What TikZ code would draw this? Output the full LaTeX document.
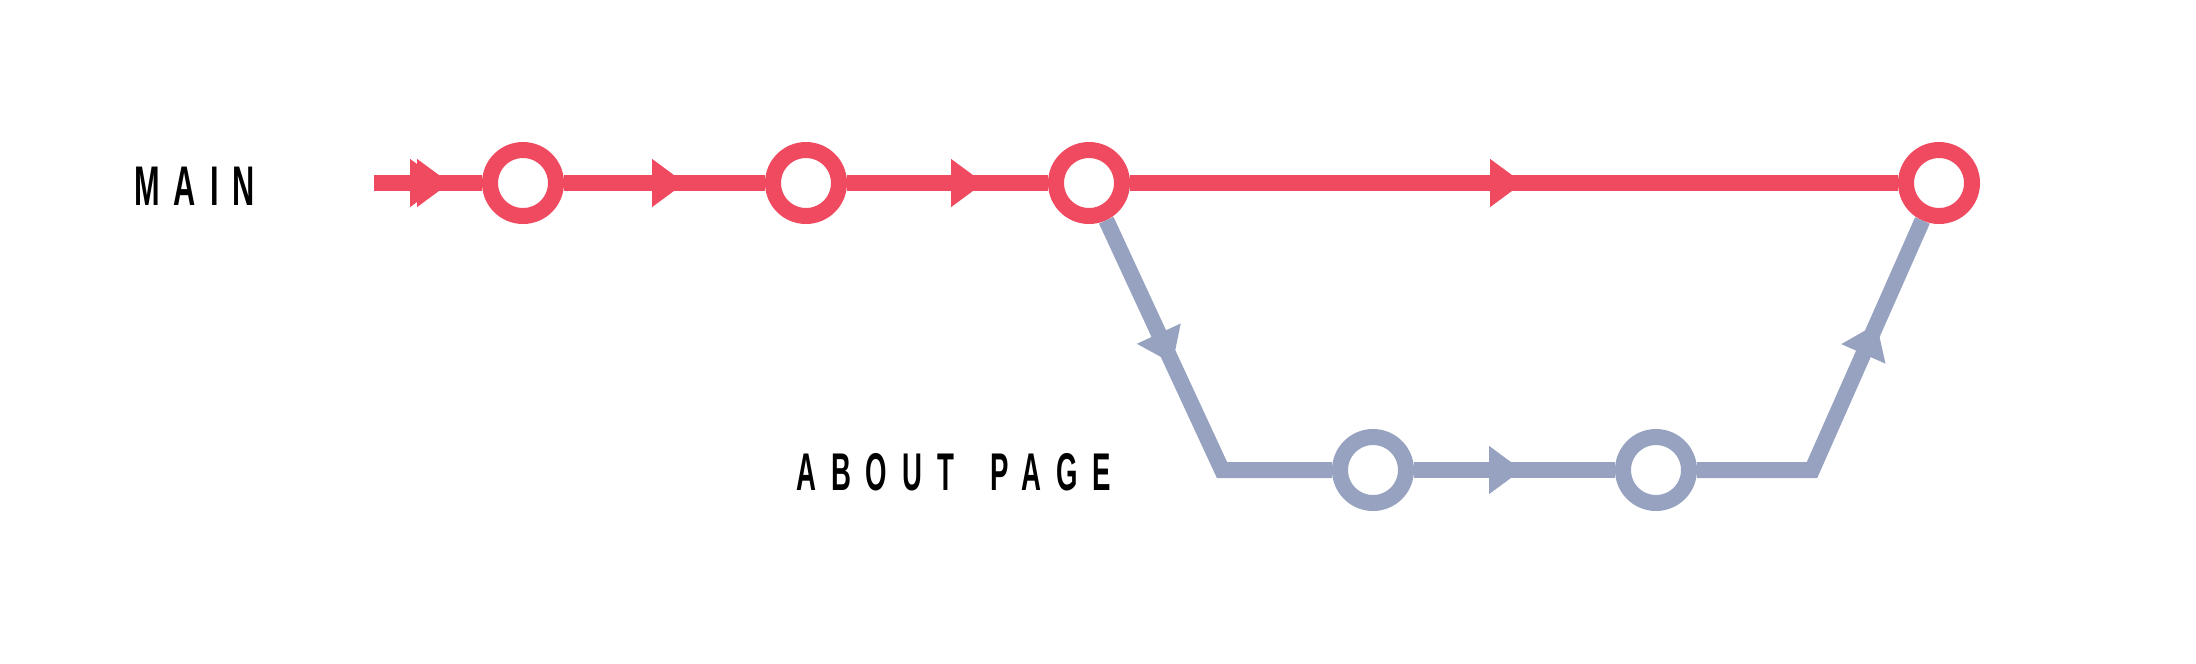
\documentclass[tikz,border=0pt]{standalone}
\usepackage{fontspec}
\newfontfamily\trunkfont[FakeStretch=0.55,LetterSpace=25]{Liberation Sans Bold}
\newfontfamily\branchfont[FakeStretch=0.52,LetterSpace=28]{Liberation Sans Bold}
\usetikzlibrary{arrows.meta,decorations.markings,positioning}
\definecolor{mainred}{HTML}{EF4A60}
\definecolor{branchblue}{HTML}{96A2BF}

\begin{document}
\begin{tikzpicture}[
    node distance=2.83cm, on grid,
    commit/.style={circle, draw=#1, fill=white, line width=1.6mm, minimum size=6.6mm, inner sep=0pt},
    flow/.style={line width=1.6mm},
    tip at/.style={postaction={decorate, decoration={markings,
        mark=at position #1 with {\arrow{Triangle[length=3.3mm,width=4.6mm]}}}}}
  ]
    \useasboundingbox (0,0) rectangle (21.96,-6.63);

    % main branch
    \coordinate (start) at (3.74,-1.83);
    \node [commit=mainred] (m1) at (5.23,-1.83) {};
    \node [commit=mainred, right=of m1] (m2) {};
    \node [commit=mainred, right=of m2] (m3) {};
    \node [commit=mainred, right=8.5cm of m3] (m4) {};

    % about page branch
    \node [commit=branchblue, below right=2.87cm and 2.84cm of m3] (a1) {};
    \node [commit=branchblue, right=of a1] (a2) {};
    \coordinate [left=1.51cm of a1] (fork);
    \coordinate [right=1.56cm of a2] (merge);

    \node [anchor=base west, font=\trunkfont\fontsize{15.9pt}{16pt}\selectfont] (mainlabel) at (1.22,-2.05) {MAIN};
    \node [anchor=base west, font=\branchfont\fontsize{15.1pt}{16pt}\selectfont] (aboutlabel) at (7.84,-4.90) {ABOUT\hspace{1.4mm} PAGE};

    \draw [flow, mainred, tip at=0.69cm, tip at=0.76cm] (start) -- (m1);
    \draw [flow, mainred, tip at=1.21cm] (m1) -- (m2);
    \draw [flow, mainred, tip at=1.37cm] (m2) -- (m3);
    \draw [flow, mainred, tip at=3.93cm] (m3) -- (m4);

    \draw [flow, branchblue, tip at=1.58cm] (m3) -- (fork) -- (a1);
    \draw [flow, branchblue, tip at=1.08cm] (a1) -- (a2);
    \draw [flow, branchblue, tip at=2.75cm] (a2) -- (merge) -- (m4);
\end{tikzpicture}
\end{document}
